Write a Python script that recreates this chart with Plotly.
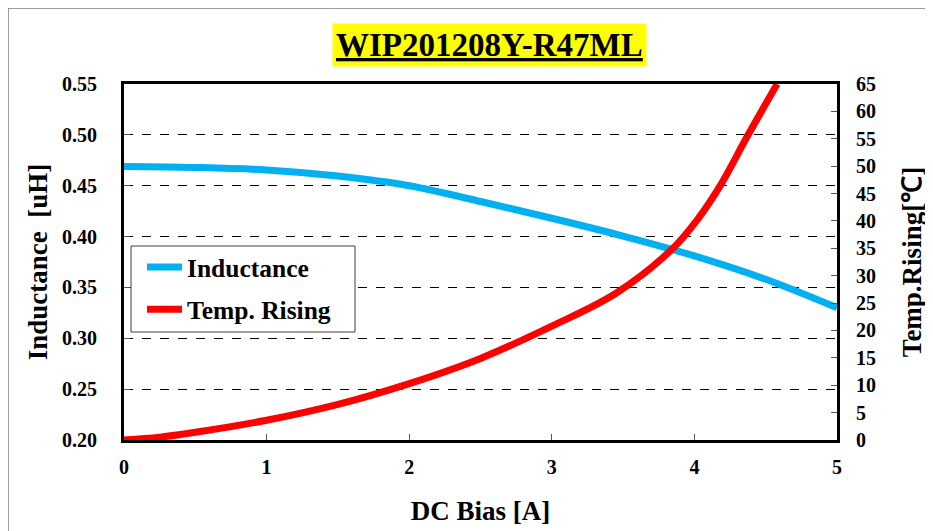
import plotly.graph_objects as go

# ---- data ----
bias_L = [0, 0.5, 1.0, 1.5, 2.0, 2.5, 3.0, 3.5, 4.0, 4.5, 5.0]
inductance = [0.469, 0.468, 0.4655, 0.4595, 0.450, 0.4345, 0.418, 0.4005, 0.381, 0.358, 0.330]

bias_T = [0, 0.25, 0.5, 1.0, 1.5, 2.0, 2.5, 3.0, 3.45, 3.85, 4.02, 4.18, 4.37, 4.58]
temp_rise = [0, 0.5, 1.4, 3.6, 6.5, 10.3, 14.9, 20.8, 26.8, 35.0, 40.2, 46.4, 55.4, 65.0]

title_text = "WIP201208Y-R47ML"
left_ticks = [0.20, 0.25, 0.30, 0.35, 0.40, 0.45, 0.50, 0.55]
right_ticks = list(range(0, 70, 5))
x_ticks = [0, 1, 2, 3, 4, 5]

FONT = "Liberation Serif, Times New Roman, serif"

W, H = 933, 531
ML, MT, MR, MB = 116, 76, 104, 99
PW, PH = W - ML - MR, H - MT - MB


def px_x(sx):
    return (sx - 124) / PW


def px_y(sy):
    return (440 - sy) / PH


fig = go.Figure()
fig.add_trace(go.Scatter(
    x=bias_L, y=inductance, name="<b>Inductance</b>", mode="lines",
    line=dict(color="#00B0F0", width=7, shape="spline"),
    legendgroup="a", yaxis="y"))
fig.add_trace(go.Scatter(
    x=bias_T, y=temp_rise, name="<b>Temp. Rising</b>", mode="lines",
    line=dict(color="#FF0000", width=7, shape="spline"),
    legendgroup="b", yaxis="y2"))

tickfont = dict(family=FONT, size=20, color="black", weight="bold")
titlefont = dict(family=FONT, size=27, color="black")

fig.update_layout(
    width=W, height=H,
    margin=dict(l=ML, r=MR, t=MT, b=MB),
    paper_bgcolor="white", plot_bgcolor="white",
    font=dict(family=FONT, color="black"),
    showlegend=True,
    legend=dict(
        x=px_x(142), y=px_y(244), xanchor="left", yanchor="top",
        bgcolor="rgba(0,0,0,0)", borderwidth=0,
        font=dict(family=FONT, size=25.5, color="black"),
        tracegroupgap=6, itemwidth=35,
    ),
    xaxis=dict(
        range=[0, 5], tickvals=x_ticks, ticktext=[str(v) for v in x_ticks],
        showgrid=False, zeroline=False,
        showline=True, linecolor="black", linewidth=3, mirror=True,
        ticks="inside", ticklen=6, tickcolor="#555555", tickwidth=1,
        tickfont=tickfont, ticklabelstandoff=7,
        title=dict(text="<b>DC Bias [A]</b>", font=titlefont, standoff=25),
    ),
    yaxis=dict(
        range=[0.20, 0.55], tickvals=left_ticks,
        ticktext=["%.2f" % v for v in left_ticks],
        showgrid=True, gridcolor="black", gridwidth=1.2, griddash="dash",
        zeroline=False,
        showline=True, linecolor="black", linewidth=3, mirror=True,
        ticks="inside", ticklen=6, tickcolor="#555555", tickwidth=1,
        tickfont=tickfont, ticklabelstandoff=20,
        title=dict(text="<b>Inductance&nbsp; [uH]</b>", font=titlefont, standoff=7),
    ),
    yaxis2=dict(
        range=[0, 65], tickvals=right_ticks,
        ticktext=[str(v) for v in right_ticks],
        overlaying="y", side="right",
        showgrid=False, zeroline=False,
        showline=False,
        ticks="inside", ticklen=6, tickcolor="#555555", tickwidth=1,
        tickfont=tickfont, ticklabelstandoff=18,
        title=dict(text="<b>Temp.Rising[℃]</b>", font=titlefont, standoff=27),
    ),
)

fig.add_annotation(
    xref="paper", yref="paper", x=px_x(489), y=px_y(45),
    xanchor="center", yanchor="middle", showarrow=False,
    text="<b><u>" + title_text + "</u></b>",
    font=dict(family=FONT, size=33, color="black"),
    bgcolor="#FFFF00", borderpad=3,
)

# legend frame (white box with thin border)
fig.add_shape(type="rect", xref="paper", yref="paper",
              x0=px_x(131), x1=px_x(355), y0=px_y(332), y1=px_y(246),
              line=dict(color="#404040", width=1), fillcolor="white",
              layer="above")

# outer chart-area border (figure edge)
fig.add_shape(type="rect", xref="paper", yref="paper",
              x0=-ML / PW, x1=(W - ML + 20) / PW,
              y0=-(MB + 20) / PH, y1=(PH + MT) / PH,
              line=dict(color="#7f7f7f", width=1.5), layer="below")

fig.write_html("out.html")
